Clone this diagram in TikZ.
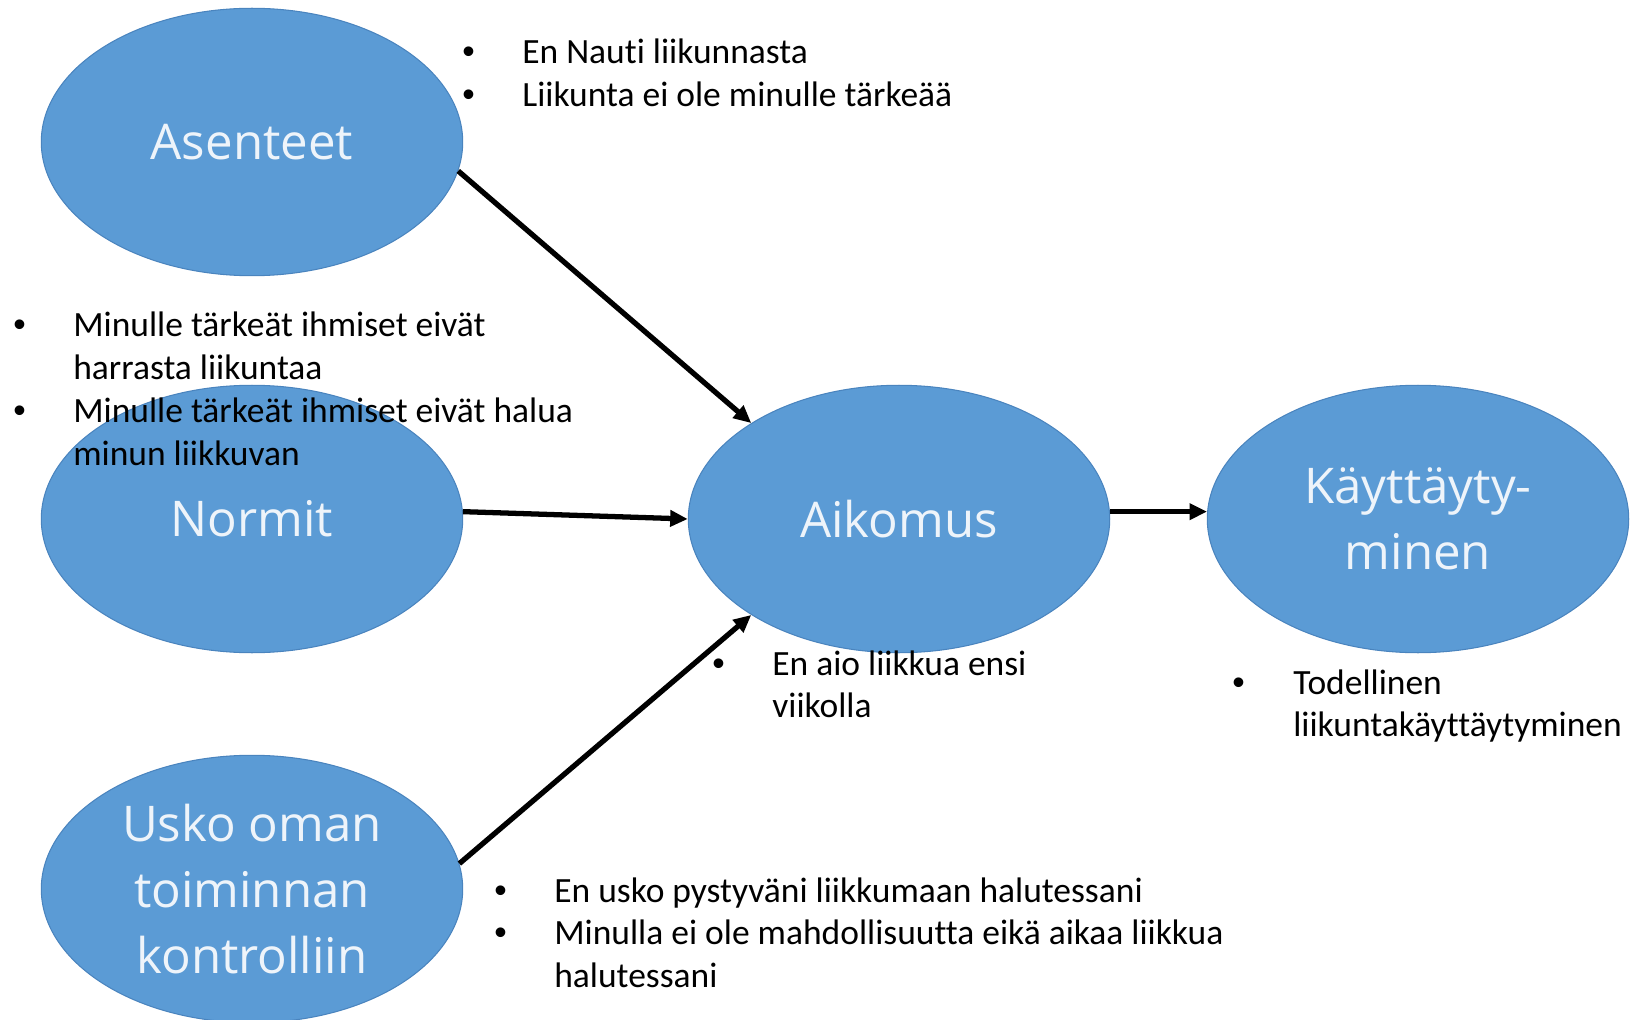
\documentclass[tikz,border=0pt]{standalone}
\usepackage{fontspec}
\usepackage{xcolor}
\usepackage{tikz}
\usetikzlibrary{arrows.meta,shapes.geometric}
\setmainfont{Carlito}[Ligatures=NoCommon]
\newfontfamily\ellfont{Open Sans}
\newfontfamily\bltfont{Liberation Sans}
\definecolor{ellblue}{HTML}{5B9BD5}
\definecolor{ellline}{HTML}{4A84BE}
\definecolor{elltext}{HTML}{EEF4FA}

\begin{document}
\begin{tikzpicture}[x=0.02cm, y=-0.02cm,
  ell/.style={ellipse, draw=ellline, line width=0.6pt, fill=ellblue, inner sep=0pt,
    minimum width=8.43cm, minimum height=5.35cm, align=center, text=elltext,
    font=\ellfont\fontsize{28}{37.5}\selectfont},
  lst/.style={anchor=base west, inner sep=0pt, font=\fontsize{20.2}{24.4}\selectfont},
  arr/.style={-{Triangle[length=10pt,width=9pt]}, line width=3pt, draw=black}]
\useasboundingbox (0,0) rectangle (1632,1020);
\node[ell] (asen) at (252,142)  {Asenteet};
\node[ell] (norm) at (252,519)  {Normit};
\node[ell] (usko) at (252,889)  {Usko oman\\toiminnan\\kontrolliin};
\node[ell] (aik)  at (899,519)  {Aikomus};
\node[ell] (kay)  at (1418,519) {Käyttäyty-\\minen};
\draw[arr] (asen.-8)--(aik.147);
\draw[arr] (norm.2)--(aik.west);
\draw[arr] (usko.7)--(aik.-147);
\draw[arr] (aik.2)--(kay.178);
\node[lst] (asenlst) at (462,64) {\begin{tabular}[t]{@{}p{1.2cm}@{}l@{}}
  {\bltfont\textbullet} & En Nauti liikunnasta\\
  {\bltfont\textbullet} & Liikunta ei ole minulle tärkeää\end{tabular}};
\node[lst] (normlst) at (13,337) {\begin{tabular}[t]{@{}p{1.2cm}@{}l@{}}
  {\bltfont\textbullet} & Minulle tärkeät ihmiset eivät\\
                        & harrasta liikuntaa\\
  {\bltfont\textbullet} & Minulle tärkeät ihmiset eivät halua\\
                        & minun liikkuvan\end{tabular}};
\node[lst] (aiklst) at (712,675) {\begin{tabular}[t]{@{}p{1.2cm}@{}l@{}}
  {\bltfont\textbullet} & En aio liikkua ensi\\
                        & viikolla\end{tabular}};
\node[lst] (kaylst) at (1232,694) {\begin{tabular}[t]{@{}p{1.22cm}@{}l@{}}
  {\bltfont\textbullet} & Todellinen\\
                        & liikuntakäyttäytyminen\end{tabular}};
\node[lst] (uskolst) at (494,902) {\begin{tabular}[t]{@{}p{1.2cm}@{}l@{}}
  {\bltfont\textbullet} & En usko pystyväni liikkumaan halutessani\\
  {\bltfont\textbullet} & Minulla ei ole mahdollisuutta eikä aikaa liikkua\\
                        & halutessani\end{tabular}};
\end{tikzpicture}
\end{document}
